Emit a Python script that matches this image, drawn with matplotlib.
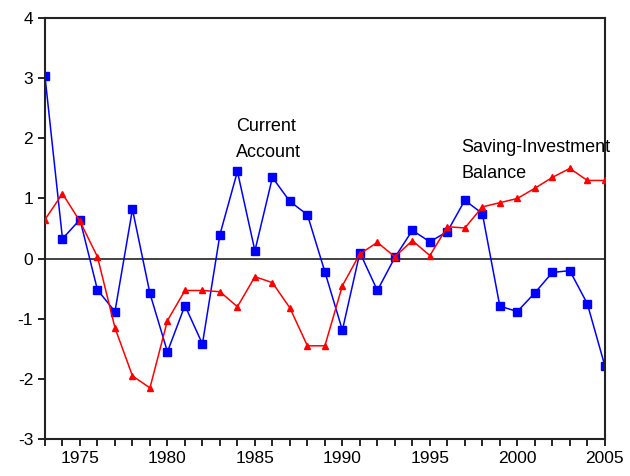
import matplotlib
matplotlib.use("Agg")
import matplotlib.pyplot as plt
import numpy as np

plt.rcParams["font.family"] = ["Liberation Sans", "DejaVu Sans"]
plt.rcParams["axes.unicode_minus"] = False

years = np.arange(1973, 2006)
current_account = [3.03, 0.33, 0.65, -0.52, -0.88, 0.82, -0.58, -1.55, -0.78, -1.42,
                   0.40, 1.45, 0.13, 1.35, 0.95, 0.73, -0.22, -1.19, 0.10, -0.53,
                   0.02, 0.47, 0.28, 0.45, 0.97, 0.75, -0.79, -0.88, -0.57, -0.23,
                   -0.20, -0.75, -1.78]
saving_investment = [0.65, 1.08, 0.62, 0.03, -1.15, -1.95, -2.15, -1.03, -0.53, -0.53,
                     -0.55, -0.80, -0.30, -0.40, -0.82, -1.45, -1.45, -0.45, 0.08, 0.27,
                     0.03, 0.30, 0.05, 0.53, 0.51, 0.86, 0.93, 1.00, 1.17, 1.35,
                     1.50, 1.30, 1.30]
year_labels = [1975, 1980, 1985, 1990, 1995, 2000, 2005]

fig = plt.figure(figsize=(6.3, 4.76), dpi=100)
ax = fig.add_axes([0.0714, 0.0777, 0.8886, 0.8843])

ax.axhline(0, color="#222222", lw=1.2, zorder=1)
ax.plot(years, saving_investment, color="#ff0000", lw=1.1, marker="^", ms=5, zorder=3)
ax.plot(years, current_account, color="#0000ff", lw=1.1, marker="s", ms=5.5, zorder=2)

ax.set_xlim(1973, 2005)
ax.set_ylim(-3, 4)
ax.set_xticks(years, minor=True)
ax.set_xticks(year_labels)
ax.set_yticks(range(-3, 5))
ax.tick_params(axis="both", direction="out", labelsize=12.5, length=5, width=1.2)
ax.tick_params(axis="x", which="minor", direction="out", length=5, width=1.2)
for s in ax.spines.values():
    s.set_linewidth(1.5)
    s.set_color("#222222")

ax.text(1983.9, 1.98, "Current\nAccount", fontsize=13, linespacing=1.7, va="center")
ax.text(1996.8, 1.63, "Saving-Investment\nBalance", fontsize=13, linespacing=1.7, va="center")

fig.savefig("out.png", dpi=100)
